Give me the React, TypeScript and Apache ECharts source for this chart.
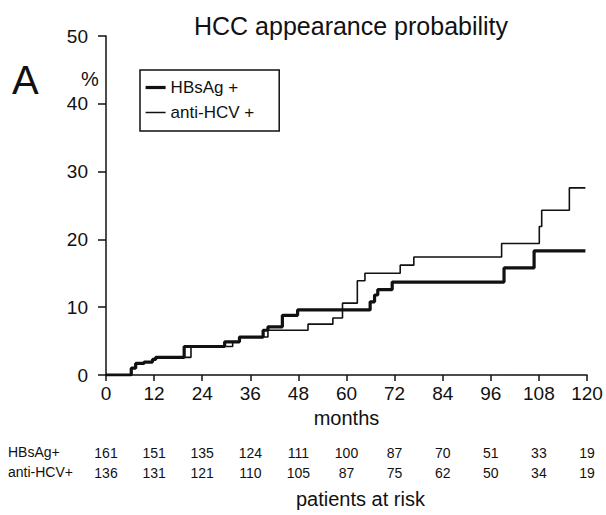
import { useEffect, useRef } from "react";
import * as echarts from "echarts";

// Cumulative HCC appearance probability (%), step curves [month, %]
const hbsagCurve: [number, number][] = [
  [0, 0], [6.3, 1.0], [7.4, 1.7], [9.5, 1.9], [11.6, 2.3], [12.4, 2.6],
  [19.5, 4.2], [29.6, 4.9], [33.3, 5.6], [39.2, 6.6], [40.4, 7.1],
  [44.0, 8.8], [47.8, 9.6], [65.9, 10.8], [67.0, 11.8], [67.8, 12.6],
  [71.4, 13.7], [99.3, 15.8], [106.8, 18.3], [119.6, 18.3],
];
const hcvCurve: [number, number][] = [
  [0, 0], [6.3, 1.0], [7.4, 1.7], [9.5, 1.9], [11.6, 2.3], [12.4, 2.6],
  [21.2, 4.2], [31.6, 4.9], [33.3, 5.6], [40.4, 6.6], [50.4, 7.5],
  [56.6, 8.4], [59.0, 10.6], [62.7, 13.9], [64.6, 15.0], [73.4, 16.2],
  [76.8, 17.4], [98.7, 19.4], [108.1, 21.9], [108.7, 24.3], [115.6, 27.6],
  [119.6, 27.6],
];

const riskMonths = [0, 12, 24, 36, 48, 60, 72, 84, 96, 108, 120];
const riskHBsAg = [161, 151, 135, 124, 111, 100, 87, 70, 51, 33, 19];
const riskHCV = [136, 131, 121, 110, 105, 87, 75, 62, 50, 34, 19];

const FONT = "'Liberation Sans', Arial, sans-serif";
const INK = "#111";

export default function App() {
  const ref = useRef<HTMLDivElement>(null);
  useEffect(() => {
    const chart = echarts.init(ref.current!, null, { renderer: "svg" });
    const axisLineStyle = { color: INK, width: 1.5 };
    const riskAxis = (gridIndex: number, values: number[]) => ({
      type: "value",
      gridIndex,
      min: 0,
      max: 120,
      interval: 12,
      axisLine: { show: false },
      axisTick: { show: false },
      splitLine: { show: false },
      axisLabel: {
        margin: 4,
        fontSize: 14,
        color: INK,
        fontFamily: FONT,
        formatter: (v: number) => {
          const i = riskMonths.indexOf(v);
          return i >= 0 ? String(values[i]) : "";
        },
      },
    });
    chart.setOption({
      animation: false,
      textStyle: { fontFamily: FONT, color: INK },
      title: {
        text: "HCC appearance probability",
        left: 189,
        top: 8,
        textStyle: { fontSize: 25, fontWeight: "normal", color: INK, fontFamily: FONT },
      },
      legend: {
        left: 140,
        top: 70,
        orient: "vertical",
        itemWidth: 20,
        itemHeight: 14,
        itemGap: 8,
        padding: [9, 25, 10, 4],
        borderColor: INK,
        borderWidth: 1.5,
        textStyle: { fontSize: 17, color: INK, fontFamily: FONT },
        itemStyle: { opacity: 0 },
        data: [
          { name: "HBsAg +", itemStyle: { opacity: 0 }, lineStyle: { width: 3.2, color: INK } },
          { name: "anti-HCV +", itemStyle: { opacity: 0 }, lineStyle: { width: 1.5, color: INK } },
        ],
      },
      grid: [
        { left: 106, top: 36, width: 481, height: 339 },
        { left: 106, top: 441, width: 481, height: 1 },
        { left: 106, top: 461, width: 481, height: 1 },
      ],
      xAxis: [
        {
          type: "value",
          min: 0,
          max: 120,
          interval: 12,
          axisLine: { lineStyle: axisLineStyle },
          axisTick: { length: 6, lineStyle: axisLineStyle },
          splitLine: { show: false },
          axisLabel: { fontSize: 19, color: INK, margin: 9, fontFamily: FONT },
          name: "months",
          nameLocation: "middle",
          nameGap: 33,
          nameTextStyle: { fontSize: 20, color: INK, fontFamily: FONT },
        },
        riskAxis(1, riskHBsAg),
        riskAxis(2, riskHCV),
      ],
      yAxis: [
        {
          type: "value",
          min: 0,
          max: 50,
          interval: 10,
          axisLine: { show: true, lineStyle: axisLineStyle },
          axisTick: { show: true, length: 8, lineStyle: axisLineStyle },
          splitLine: { show: false },
          axisLabel: { fontSize: 19, color: INK, margin: 18, fontFamily: FONT },
        },
        { type: "value", gridIndex: 1, show: false, min: 0, max: 1 },
        { type: "value", gridIndex: 2, show: false, min: 0, max: 1 },
      ],
      series: [
        {
          type: "line",
          name: "HBsAg +",
          data: hbsagCurve,
          step: "end",
          symbol: "none",
          lineStyle: { color: INK, width: 3.2 },
          itemStyle: { color: INK },
        },
        {
          type: "line",
          name: "anti-HCV +",
          data: hcvCurve,
          step: "end",
          symbol: "none",
          lineStyle: { color: INK, width: 1.6 },
          itemStyle: { color: INK },
        },
        { type: "line", xAxisIndex: 1, yAxisIndex: 1, data: [], silent: true },
        { type: "line", xAxisIndex: 2, yAxisIndex: 2, data: [], silent: true },
      ],
      graphic: [
        { type: "text", left: 12, top: 60, style: { text: "A", fontSize: 40, fill: INK, fontFamily: FONT } },
        { type: "text", left: 81, top: 69, style: { text: "%", fontSize: 20, fill: INK, fontFamily: FONT } },
        { type: "text", left: 8, top: 445, style: { text: "HBsAg+", fontSize: 14, fill: INK, fontFamily: FONT } },
        { type: "text", left: 8, top: 465, style: { text: "anti-HCV+", fontSize: 14, fill: INK, fontFamily: FONT } },
        { type: "text", left: 296, top: 489, style: { text: "patients at risk", fontSize: 20, fill: INK, fontFamily: FONT } },
      ],
    });
    return () => chart.dispose();
  }, []);
  return (
    <div
      ref={ref}
      style={{ position: "fixed", left: 0, top: 0, width: 606, height: 515, background: "#fff" }}
    />
  );
}
